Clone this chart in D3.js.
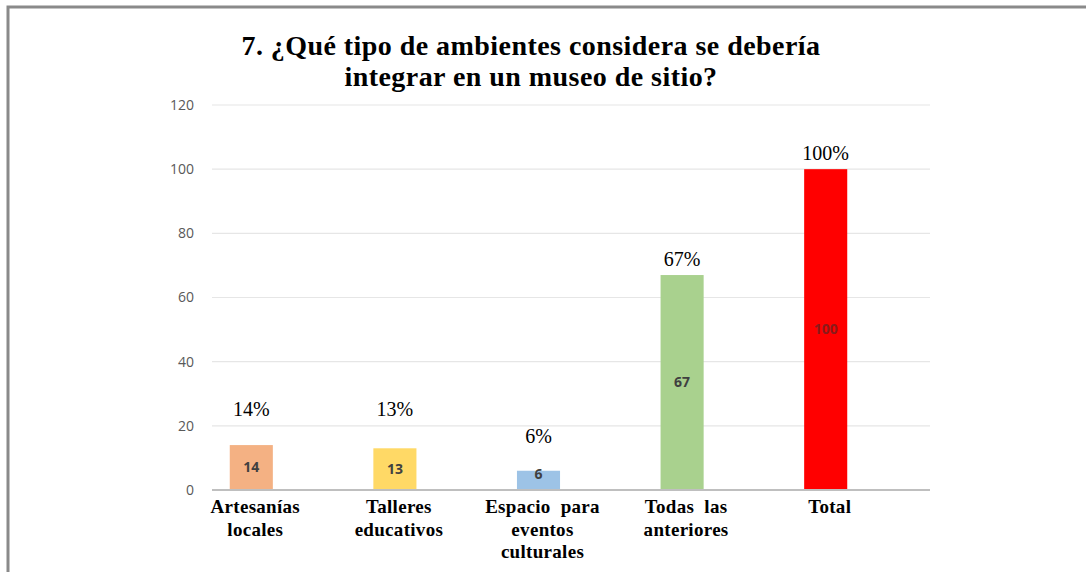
<!DOCTYPE html>
<html><head><meta charset="utf-8">
<script src="https://cdn.jsdelivr.net/npm/d3@7"></script>
<style>body{margin:0;background:#fff}svg{display:block}</style>
</head><body>
<script>
const categories = [["Artesanías","locales"],["Talleres","educativos"],["Espacio  para","eventos","culturales"],["Todas  las","anteriores"],["Total"]];
const values = [14, 13, 6, 67, 100];
const pctLabels = ["14%","13%","6%","67%","100%"];
const yTicks = [0, 20, 40, 60, 80, 100, 120];
const barColors = ["#F4B183","#FFD966","#9DC3E6","#A9D18E","#FF0000"];
const innerLabelColors = ["#404040","#404040","#404040","#404040","#8B1A1A"];
const pctOffsets = [36, 39, 35, 16, 16];
const titleLines = ["7. ¿Qué tipo de ambientes considera se debería","integrar en un museo de sitio?"];

const W = 1086, H = 572;
const svg = d3.select("body").append("svg").attr("width", W).attr("height", H);

// frame
svg.append("path").attr("d", "M8,572 V7 H1086").attr("fill","none").attr("stroke","#8a8a8a").attr("stroke-width",3);

const x = d3.scaleBand().domain(d3.range(values.length)).range([179.5, 897.5]).paddingInner(0.7).paddingOuter(0.35);
const y = d3.scaleLinear().domain([0, 120]).range([490, 105]);

// title
svg.append("g").selectAll("text").data(titleLines).join("text")
  .attr("x", 531).attr("y", (d,i) => 55 + i*31)
  .attr("text-anchor","middle")
  .attr("font-family","'Liberation Serif','Times New Roman',serif")
  .attr("font-weight","bold").attr("font-size", 28).attr("letter-spacing", 0.45).attr("fill","#000")
  .text(d => d);

// gridlines
svg.append("g").selectAll("line").data(yTicks.filter(t => t > 0)).join("line")
  .attr("x1", 212).attr("x2", 930).attr("y1", d => y(d)).attr("y2", d => y(d))
  .attr("stroke","#e6e6e6").attr("stroke-width",1.2);

// y axis labels
const yAxis = d3.axisLeft(y).tickValues(yTicks).tickSize(0).tickPadding(0);
const gy = svg.append("g").attr("transform","translate(194,0)").call(yAxis);
gy.select(".domain").remove();
gy.selectAll("text").attr("font-family","'Open Sans','Liberation Sans',sans-serif").attr("font-size",14).attr("fill","#595959");

// bars
svg.append("g").selectAll("rect").data(values).join("rect")
  .attr("x", (d,i) => x(i)).attr("width", x.bandwidth())
  .attr("y", d => y(d)).attr("height", d => y(0) - y(d))
  .attr("fill", (d,i) => barColors[i]);

// baseline
svg.append("line").attr("x1",212).attr("x2",930).attr("y1",y(0)).attr("y2",y(0)).attr("stroke","#bfbfbf").attr("stroke-width",2);

// inner labels
svg.append("g").selectAll("text").data(values).join("text")
  .attr("x", (d,i) => x(i) + x.bandwidth()/2)
  .attr("y", d => (y(d) + y(0))/2 - (d < 10 ? 6 : 0))
  .attr("dy","0.35em").attr("text-anchor","middle")
  .attr("font-family","'Open Sans','Liberation Sans',sans-serif").attr("font-weight","bold").attr("font-size",14)
  .attr("fill",(d,i) => innerLabelColors[i])
  .text(d => d);

// pct labels
svg.append("g").selectAll("text").data(values).join("text")
  .attr("x", (d,i) => x(i) + x.bandwidth()/2)
  .attr("y", (d,i) => y(d) - pctOffsets[i])
  .attr("dy","0.35em").attr("text-anchor","middle")
  .attr("font-family","'Liberation Serif','Times New Roman',serif").attr("font-size",20).attr("fill","#000")
  .text((d,i) => pctLabels[i]);

// category labels
const cg = svg.append("g").selectAll("text").data(categories).join("text")
  .attr("text-anchor","middle")
  .attr("font-family","'Liberation Serif','Times New Roman',serif").attr("font-weight","bold").attr("font-size",19).attr("letter-spacing",0.3).attr("fill","#000")
  .attr("xml:space","preserve").style("white-space","pre");
cg.each(function(lines, i){
  d3.select(this).selectAll("tspan").data(lines).join("tspan")
    .attr("x", x(i) + x.bandwidth()/2 + 4).attr("y", (d,j) => 513 + j*22.5).text(d => d);
});
</script>
</body></html>
